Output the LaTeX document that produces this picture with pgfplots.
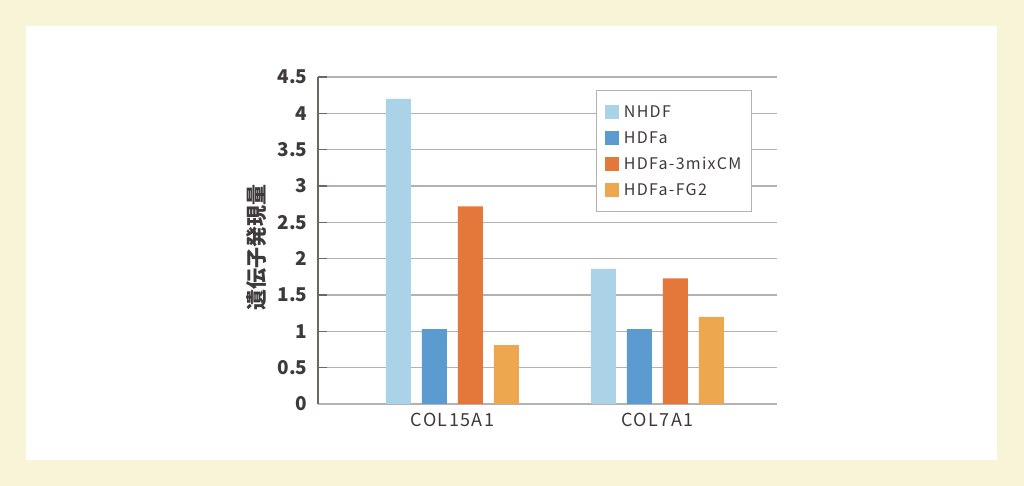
\documentclass[border=0pt]{standalone}
\usepackage{fontspec}
\setmainfont{Noto Sans CJK JP}
\usepackage{pgfplots}
\pgfplotsset{compat=1.18}

\definecolor{cream}{HTML}{F8F4D8}
\definecolor{cNHDF}{HTML}{ABD3E8}
\definecolor{cHDFa}{HTML}{5B9BD0}
\definecolor{cMix}{HTML}{E4773A}
\definecolor{cFG}{HTML}{EDA84F}
\definecolor{txt}{HTML}{3E3A39}
\definecolor{axdark}{HTML}{6F6662}
\definecolor{gridc}{HTML}{B4B2B0}

\begin{document}
\begin{tikzpicture}
% page background and white panel
\fill[cream] (0pt,0pt) rectangle (1024pt,486pt);
\fill[white] (26pt,26pt) rectangle (997pt,460pt);
\begin{axis}[
    scale only axis,
    width=459pt, height=327pt,
    at={(318pt,82pt)}, anchor=south west,
    ybar=11pt, bar width=25pt,
    xmin=-0.656, xmax=1.583,
    ymin=0, ymax=4.5,
    ytick={0,0.5,...,4.5},
    xtick={0,1},
    xticklabels={COL15A1,COL7A1},
    major x tick style={draw=none},
    ytick style={draw=axdark, line width=1.6pt},
    tick align=inside,
    major tick length=9pt,
    axis line style={-},
    axis y line*=left,
    axis x line*=bottom,
    x axis line style={draw=gridc, line width=1.4pt},
    y axis line style={draw=axdark, line width=1.8pt},
    ymajorgrids,
    major grid style={draw=gridc, line width=1.4pt},
    /pgf/number format/assume math mode=true,
    yticklabel style={font=\fontsize{19}{22}\selectfont\bfseries, text=txt, xshift=-7pt},
    xticklabel style={font=\fontsize{18}{21}\selectfont\addfontfeatures{LetterSpace=8}, text=txt, yshift=-6pt},
    legend style={at={(rel axis cs:0.945,0.96)}, anchor=north east,
        draw=gridc, line width=1pt, fill=white,
        font=\fontsize{16}{19}\selectfont\addfontfeatures{LetterSpace=8}, text=txt,
        row sep=8.5pt, column sep=3pt, inner xsep=8pt, inner ysep=13pt},
    legend cell align=left,
    legend image code/.code={\fill[#1] (0pt,-7pt) rectangle (14pt,7pt);},
]
\addplot[fill=cNHDF, draw=none] coordinates {(0,4.20) (1,1.86)};
\addplot[fill=cHDFa, draw=none] coordinates {(0,1.03) (1,1.03)};
\addplot[fill=cMix, draw=none] coordinates {(0,2.72) (1,1.73)};
\addplot[fill=cFG, draw=none] coordinates {(0,0.81) (1,1.20)};
\legend{NHDF,HDFa,HDFa-3mixCM,HDFa-FG2}
\end{axis}
\node[rotate=90, text=txt, font=\fontsize{21}{24}\selectfont\bfseries] at (257pt,238pt) {遺伝子発現量};
\end{tikzpicture}
\end{document}
